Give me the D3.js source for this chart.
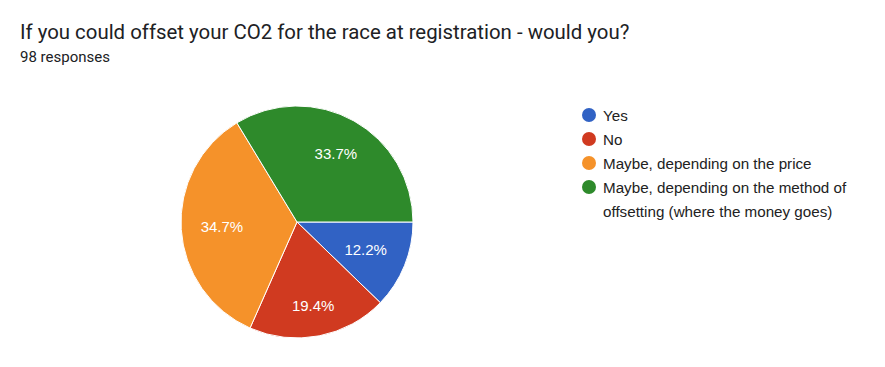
<!DOCTYPE html>
<html>
<head>
<meta charset="utf-8">
<script src="https://cdn.jsdelivr.net/npm/d3@7"></script>
<style>
  html, body { margin: 0; padding: 0; background: #fff; }
  svg { display: block; }
</style>
</head>
<body>
<script>
const WIDTH = 885;
const HEIGHT = 367;

const TITLE = 'If you could offset your CO2 for the race at registration - would you?';
const SUBTITLE = '98 responses';

const categories = [
  'Yes',
  'No',
  'Maybe, depending on the price',
  'Maybe, depending on the method of offsetting (where the money goes)'
];
const counts = [12, 19, 34, 33];
const colors = ['#3162c4', '#d03a20', '#f5922a', '#2e8a2b'];
const legendLines = [
  ['Yes'],
  ['No'],
  ['Maybe, depending on the price'],
  ['Maybe, depending on the method of', 'offsetting (where the money goes)']
];

const CX = 297, CY = 222, R = 116;
const LABEL_R = 97;

const svg = d3.select('body')
  .append('svg')
  .attr('width', WIDTH)
  .attr('height', HEIGHT);

svg.append('text')
  .attr('x', 20)
  .attr('y', 39)
  .attr('font-family', 'Roboto, sans-serif')
  .attr('font-size', 20.4)
  .attr('fill', '#202124')
  .text(TITLE);

svg.append('text')
  .attr('x', 20)
  .attr('y', 62)
  .attr('font-family', 'Roboto, sans-serif')
  .attr('font-size', 15)
  .attr('fill', '#202124')
  .text(SUBTITLE);

const total = d3.sum(counts);
const data = categories.map((c, i) => ({ name: c, value: counts[i], color: colors[i] }));

const pie = d3.pie()
  .value(d => d.value)
  .sort(null)
  .startAngle(Math.PI / 2)
  .endAngle(Math.PI / 2 + 2 * Math.PI);

const arc = d3.arc().innerRadius(0).outerRadius(R);

const g = svg.append('g').attr('transform', `translate(${CX}, ${CY})`);
const arcs = pie(data);

g.selectAll('path.slice')
  .data(arcs)
  .enter().append('path')
    .classed('slice', true)
    .attr('d', arc)
    .attr('fill', d => d.data.color)
    .attr('stroke', '#fff')
    .attr('stroke-width', 1);

const fmt = d3.format('.1%');
const labels = g.selectAll('text.pct')
  .data(arcs)
  .enter().append('text')
    .classed('pct', true)
    .attr('font-family', 'Arial, "Liberation Sans", sans-serif')
    .attr('font-size', 15)
    .attr('fill', '#fff')
    .attr('text-anchor', 'middle')
    .attr('dominant-baseline', 'central')
    .text(d => fmt(d.data.value / total));

// keep the label box inside a circle of LABEL_R, like google charts
labels.each(function(d) {
  const bb = this.getBBox();
  const a = (d.startAngle + d.endAngle) / 2;
  const sx = Math.sin(a), cy = -Math.cos(a);
  const r = LABEL_R - (bb.width / 2) * Math.abs(sx) - (bb.height / 2) * Math.abs(cy);
  d3.select(this).attr('x', r * sx).attr('y', r * cy);
});

const legend = svg.append('g').attr('transform', 'translate(589, 115)');
const rows = legend.selectAll('g.row')
  .data(data)
  .enter().append('g')
    .classed('row', true)
    .attr('transform', (d, i) => `translate(0, ${i * 24})`);

rows.append('circle')
  .attr('r', 7)
  .attr('fill', d => d.color);

rows.append('text')
  .attr('x', 14)
  .attr('font-family', 'Arial, "Liberation Sans", sans-serif')
  .attr('font-size', 15.2)
  .attr('fill', '#222')
  .attr('dominant-baseline', 'central')
  .selectAll('tspan')
  .data((d, i) => legendLines[i])
  .enter().append('tspan')
    .attr('x', 14)
    .attr('y', (d, j) => j * 24)
    .text(d => d);
</script>
</body>
</html>
